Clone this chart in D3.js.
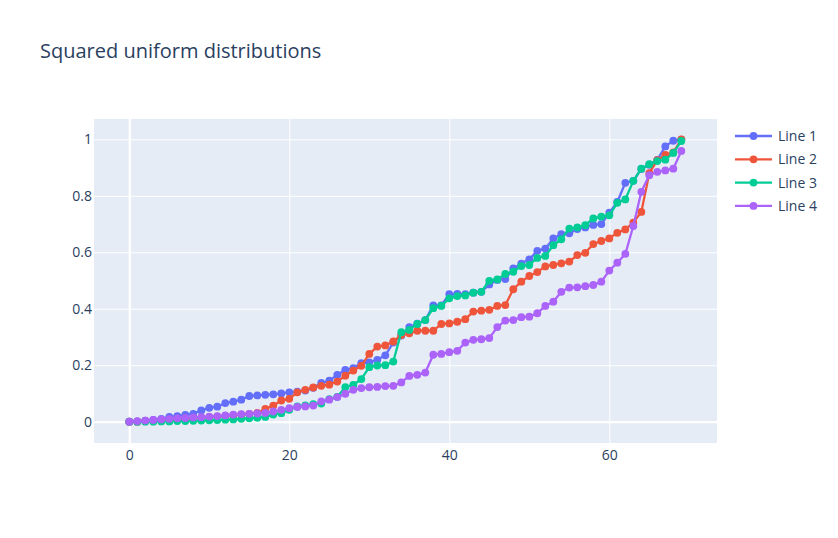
<!DOCTYPE html>
<html>
<head>
<meta charset="utf-8">
<script src="https://cdn.jsdelivr.net/npm/d3@7"></script>
<style>
  body { margin: 0; background: #fff; }
  text { font-family: "Open Sans", verdana, arial, sans-serif; }
</style>
</head>
<body>
<svg id="chart" width="838" height="538"></svg>
<script>
'use strict';

var seriesNames = ['Line 1', 'Line 2', 'Line 3', 'Line 4'];
var seriesColors = ['#636efa', '#EF553B', '#00cc96', '#ab63fa'];

var line1 = [0, 0, 0.004, 0.006, 0.01, 0.017, 0.02, 0.024, 0.028, 0.04,
    0.049, 0.053, 0.066, 0.071, 0.078, 0.091, 0.093, 0.095, 0.097, 0.1,
    0.104, 0.106, 0.11, 0.12, 0.137, 0.145, 0.166, 0.183, 0.19, 0.207,
    0.21, 0.219, 0.235, 0.28, 0.305, 0.335, 0.347, 0.36, 0.412, 0.412,
    0.452, 0.453, 0.452, 0.457, 0.46, 0.486, 0.502, 0.505, 0.543, 0.56,
    0.575, 0.605, 0.613, 0.649, 0.664, 0.667, 0.682, 0.688, 0.697, 0.7,
    0.74, 0.778, 0.846, 0.853, 0.895, 0.91, 0.927, 0.975, 0.995, 0.999];

var line2 = [0, 0, 0.002, 0.003, 0.005, 0.007, 0.008, 0.01, 0.012, 0.014,
    0.016, 0.018, 0.02, 0.022, 0.025, 0.028, 0.031, 0.045, 0.057, 0.075,
    0.081, 0.104, 0.113, 0.121, 0.127, 0.131, 0.142, 0.163, 0.181, 0.198,
    0.24, 0.266, 0.27, 0.284, 0.307, 0.313, 0.322, 0.322, 0.322, 0.346,
    0.348, 0.354, 0.363, 0.39, 0.393, 0.396, 0.41, 0.413, 0.469, 0.496,
    0.516, 0.53, 0.55, 0.555, 0.561, 0.567, 0.59, 0.598, 0.629, 0.64,
    0.649, 0.669, 0.681, 0.705, 0.743, 0.88, 0.926, 0.945, 0.954, 1.0];

var line3 = [0, 0, 0, 0, 0.001, 0.001, 0.002, 0.002, 0.003, 0.004,
    0.005, 0.006, 0.007, 0.008, 0.01, 0.012, 0.014, 0.017, 0.025, 0.03,
    0.042, 0.054, 0.058, 0.062, 0.064, 0.08, 0.088, 0.122, 0.13, 0.151,
    0.193, 0.199, 0.2, 0.213, 0.317, 0.325, 0.346, 0.36, 0.402, 0.41,
    0.437, 0.445, 0.447, 0.457, 0.46, 0.499, 0.504, 0.523, 0.531, 0.551,
    0.555, 0.58, 0.587, 0.625, 0.646, 0.684, 0.688, 0.696, 0.72, 0.726,
    0.731, 0.775, 0.787, 0.853, 0.896, 0.912, 0.923, 0.928, 0.952, 0.994];

var line4 = [0, 0.002, 0.004, 0.006, 0.008, 0.01, 0.012, 0.013, 0.015, 0.016,
    0.018, 0.02, 0.022, 0.025, 0.027, 0.028, 0.029, 0.031, 0.036, 0.042,
    0.048, 0.052, 0.054, 0.057, 0.072, 0.078, 0.087, 0.099, 0.113, 0.119,
    0.122, 0.123, 0.126, 0.127, 0.139, 0.162, 0.166, 0.174, 0.237, 0.24,
    0.246, 0.251, 0.28, 0.29, 0.292, 0.296, 0.335, 0.358, 0.36, 0.37,
    0.372, 0.384, 0.41, 0.425, 0.46, 0.475, 0.476, 0.48, 0.484, 0.496,
    0.535, 0.563, 0.594, 0.693, 0.814, 0.873, 0.885, 0.89, 0.896, 0.959];

var xTicks = [0, 20, 40, 60];
var yTicks = [0, 0.2, 0.4, 0.6, 0.8, 1];
var yTickLabels = ['0', '0.2', '0.4', '0.6', '0.8', '1'];

var allSeries = [line1, line2, line3, line4];

var width = 838,
    height = 538;
var plot = { left: 94, top: 119, right: 717, bottom: 443 };
var textColor = '#2a3f5f';

var svg = d3.select('#chart');

var xScale = d3.scaleLinear().domain([-4.41, 73.46]).range([plot.left, plot.right]);
var yScale = d3.scaleLinear().domain([-0.0755, 1.072]).range([plot.bottom, plot.top]);

// plot background
svg.append('rect')
    .attr('x', plot.left)
    .attr('y', plot.top)
    .attr('width', plot.right - plot.left)
    .attr('height', plot.bottom - plot.top)
    .attr('fill', '#E5ECF6');

// grid lines + tick labels
var xAxis = d3.axisBottom(xScale).tickValues(xTicks).tickSize(-(plot.bottom - plot.top));
var yAxis = d3.axisLeft(yScale).tickValues(yTicks)
    .tickFormat(function (d, i) { return yTickLabels[i]; })
    .tickSize(-(plot.right - plot.left));

var gx = svg.append('g')
    .attr('transform', 'translate(0,' + plot.bottom + ')')
    .call(xAxis);
var gy = svg.append('g')
    .attr('transform', 'translate(' + plot.left + ',0)')
    .call(yAxis);

[gx, gy].forEach(function (g) {
    g.select('.domain').remove();
    g.selectAll('.tick line')
        .attr('stroke', '#fff')
        .attr('stroke-width', function (d) { return d === 0 ? 2.3 : 1; });
    g.selectAll('.tick text')
        .attr('fill', textColor)
        .style('font-size', '14px');
});
gx.selectAll('.tick text').attr('dy', null).attr('y', 16.5);
gy.selectAll('.tick text').attr('x', -2);

// lines + markers
var lineGen = d3.line()
    .x(function (d, i) { return xScale(i); })
    .y(function (d) { return yScale(d); });

var traces = svg.append('g').attr('class', 'traces');

allSeries.forEach(function (values, s) {
    var g = traces.append('g');
    g.append('path')
        .datum(values)
        .attr('d', lineGen)
        .attr('fill', 'none')
        .attr('stroke', seriesColors[s])
        .attr('stroke-width', 2.3)
        .attr('stroke-linejoin', 'round');
    g.selectAll('circle')
        .data(values)
        .enter()
        .append('circle')
        .attr('cx', function (d, i) { return xScale(i); })
        .attr('cy', function (d) { return yScale(d); })
        .attr('r', 3.9)
        .attr('fill', seriesColors[s]);
});

// title
svg.append('text')
    .attr('x', 40)
    .attr('y', 58)
    .attr('fill', textColor)
    .style('font-size', '20px')
    .text('Squared uniform distributions');

// legend
var legend = svg.append('g').attr('transform', 'translate(735,136)');
seriesNames.forEach(function (name, i) {
    var row = legend.append('g').attr('transform', 'translate(0,' + (i * 23.3) + ')');
    row.append('line')
        .attr('x1', 0).attr('x2', 37)
        .attr('y1', 0).attr('y2', 0)
        .attr('stroke', seriesColors[i])
        .attr('stroke-width', 2.3);
    row.append('circle')
        .attr('cx', 18.5).attr('cy', 0).attr('r', 3.9)
        .attr('fill', seriesColors[i]);
    row.append('text')
        .attr('x', 43)
        .attr('y', 0)
        .attr('dy', '0.35em')
        .attr('fill', textColor)
        .style('font-size', '14px')
        .text(name);
});
</script>
</body>
</html>
